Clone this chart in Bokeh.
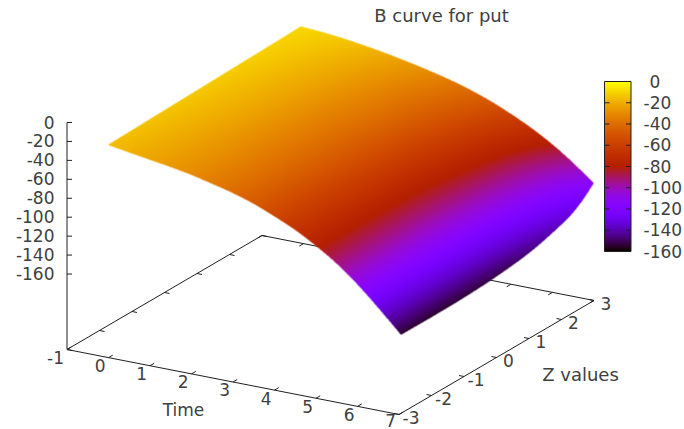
import math
import numpy as np
from bokeh.plotting import figure
from bokeh.embed import file_html
from bokeh.models import LinearColorMapper
from bokeh.resources import INLINE
from bokeh.core.properties import value

TITLE = "B curve for put"
XLABEL = "Time"
YLABEL = "Z values"

time_values = [0, 0.5, 1, 1.5, 2, 2.5, 3, 3.5, 4, 4.5, 5, 5.5, 6, 6.5, 7.05]
z_values = [-3, -2, -1, 0, 1, 2, 2.5, 2.92]
# B(time, z), one list per z value
b_zm3 = [-15, -18.6, -22, -25.4, -29.4, -34.5, -40, -47, -56, -66, -78.5, -93, -110.6, -131, -154.8]
b_zm2 = [-14, -17.6, -21, -25, -29, -34, -39.5, -47, -56, -66, -78.5, -93, -110.5, -131, -155]
b_zm1 = [-13, -16.6, -20, -24, -28.5, -33.5, -39, -46, -55, -65.5, -78, -92.5, -110, -130, -154.4]
b_z0 = [-12, -15.6, -19, -23, -27.5, -32.5, -38, -45, -53.5, -64, -76.5, -91, -108, -128, -152]
b_z1 = [-11, -14.4, -18, -21.5, -26, -31, -36, -42.5, -51, -61, -73, -87, -104, -124, -147]
b_z2 = [-10, -12.8, -16, -19.5, -23.6, -28.2, -33.4, -39.2, -46.2, -55.2, -66.8, -80.5, -96.5, -115, -136.5]
b_z25 = [-9.5, -11.6, -14.4, -17.8, -21.6, -26, -30.8, -36.2, -42.8, -51, -61.5, -74, -89, -107, -127]
b_z3 = [-9, -10.5, -12.8, -15.8, -19.4, -23.6, -28.2, -33.5, -39.8, -47.5, -56.8, -67.5, -80, -95, -113.7]
b_grid = [b_zm3, b_zm2, b_zm1, b_z0, b_z1, b_z2, b_z25, b_z3]

time_ticks = [-1, 0, 1, 2, 3, 4, 5, 6, 7]
z_ticks = [-3, -2, -1, 0, 1, 2, 3]
b_ticks = [0, -20, -40, -60, -80, -100, -120, -140, -160]
B_FLOOR = -239.7
CB_LOW, CB_HIGH = -160, 0

TXT = "#404040"
FONT = value("DejaVu Sans")
FS = "17px"
W, H = 684, 429


def proj(t, z, b):
    a, c = t + 1, z + 3
    return 66.5 + 41.5 * a + 32.5 * c, 122 - 0.947 * b + 8.125 * a - 19 * c


def cb_y(b):
    return 81 + (-b) * 170 / 160


def rgb(b):
    g = np.clip((np.asarray(b, dtype=float) - CB_LOW) / (CB_HIGH - CB_LOW), 0, 1)
    return np.sqrt(g), g ** 3, np.maximum(0.0, np.sin(2 * np.pi * g))


def cr(p0, p1, p2, p3, u):
    return 0.5 * (2 * p1 + (p2 - p0) * u + (2 * p0 - 5 * p1 + 4 * p2 - p3) * u ** 2 + (3 * p1 - p0 - 3 * p2 + p3) * u ** 3)


def surface_image(ss=2):
    """Paint the grid (Catmull-Rom between its values) into an RGBA raster."""
    grid = np.array(b_grid, dtype=float)
    nz, nt = grid.shape
    buf = np.zeros((H * ss, W * ss, 4), dtype=float)
    u = (np.arange(220) + .5) / 220
    v = (np.arange(260) + .5) / 260
    for j in range(nz - 2, -1, -1):
        kj = [max(0, min(nz - 1, q)) for q in range(j - 1, j + 3)]
        zz = cr(z_values[kj[0]], z_values[kj[1]], z_values[kj[2]], z_values[kj[3]], v)
        for i in range(nt - 1):
            ki = [max(0, min(nt - 1, q)) for q in range(i - 1, i + 3)]
            rows = [cr(grid[k, ki[0]], grid[k, ki[1]], grid[k, ki[2]], grid[k, ki[3]], u) for k in kj]
            b = np.array([cr(rows[0], rows[1], rows[2], rows[3], vv) for vv in v])
            tt = cr(time_values[ki[0]], time_values[ki[1]], time_values[ki[2]], time_values[ki[3]], u)
            T, Z = np.meshgrid(tt, zz)
            X, Y = proj(T, Z, b)
            ix = np.clip((X * ss).astype(int), 0, W * ss - 1)
            iy = np.clip((Y * ss).astype(int), 0, H * ss - 1)
            rr, gg, bb = rgb(b)
            buf[iy, ix, 0] = rr
            buf[iy, ix, 1] = gg
            buf[iy, ix, 2] = bb
            buf[iy, ix, 3] = 1.0
    small = buf.reshape(H, ss, W, ss, 4)
    alpha = small[..., 3].mean(axis=(1, 3))
    col = (small[..., :3] * small[..., 3:4]).mean(axis=(1, 3)) / np.maximum(alpha, 1e-6)[..., None]
    out = np.zeros((H, W), dtype=np.uint32)
    view = out.view(np.uint8).reshape(H, W, 4)
    view[..., :3] = np.round(col * 255).astype(np.uint8)
    view[..., 3] = np.round(alpha * 255).astype(np.uint8)
    return out


p = figure(width=W, height=H, x_range=(0, W), y_range=(H, 0),
           toolbar_location=None, output_backend="svg", min_border=0,
           outline_line_color=None, background_fill_color="white",
           border_fill_color="white")
p.axis.visible = False
p.grid.visible = False


def seg(pairs, color_="#202020", width=1.0):
    p.segment([q[0] for q in pairs], [q[1] for q in pairs], [q[2] for q in pairs], [q[3] for q in pairs],
              line_color=color_, line_width=width)


# floor frame
t0, t1 = time_ticks[0], time_ticks[-1]
z0, z1 = z_ticks[0], z_ticks[-1]
corners = [(t0, z0), (t1, z0), (t1, z1), (t0, z1), (t0, z0)]
frame = []
for (ta, za), (tb, zb) in zip(corners[:-1], corners[1:]):
    frame.append(proj(ta, za, B_FLOOR) + proj(tb, zb, B_FLOOR))
ticks = []
for t in time_ticks:
    ticks.append(proj(t, z0, B_FLOOR) + proj(t, z0 + 0.13, B_FLOOR))
    ticks.append(proj(t, z1, B_FLOOR) + proj(t, z1 - 0.13, B_FLOOR))
for z in z_ticks:
    ticks.append(proj(t0, z, B_FLOOR) + proj(t0 + 0.12, z, B_FLOOR))
    ticks.append(proj(t1, z, B_FLOOR) + proj(t1 - 0.12, z, B_FLOOR))
seg(frame)
seg(ticks)

# vertical axis
xa, ya_floor = proj(t0, z0, B_FLOOR)
_, ya_top = proj(t0, z0, b_ticks[0])
seg([(xa, ya_top, xa, ya_floor)])
seg([(xa, proj(t0, z0, b)[1], xa + 5, proj(t0, z0, b)[1]) for b in b_ticks])

# surface
p.image_rgba(image=[surface_image()], x=0, y=0, dw=W, dh=H)

# colour box
BAR_L, BAR_R = 604, 630.5
r_, g_, b_ = rgb(np.linspace(CB_LOW, CB_HIGH, 256))
palette = ["#%02x%02x%02x" % (round(a * 255), round(b * 255), round(c * 255)) for a, b, c in zip(r_, g_, b_)]
mapper = LinearColorMapper(palette=palette, low=CB_LOW, high=CB_HIGH)
bar_levels = np.linspace(CB_HIGH, CB_LOW, 170).reshape(170, 1)
p.image(image=[bar_levels], x=BAR_L, y=cb_y(0), dw=BAR_R - BAR_L, dh=cb_y(-160) - cb_y(0), color_mapper=mapper)
seg([(BAR_L, cb_y(b), BAR_L + 5, cb_y(b)) for b in b_ticks[1:-1]] +
    [(BAR_R, cb_y(b), BAR_R - 5, cb_y(b)) for b in b_ticks[1:-1]], "#202020")
p.quad(left=BAR_L, right=BAR_R, top=cb_y(0), bottom=cb_y(-160), fill_color=None, line_color="#202020", line_width=1)


def text(x, y, s, align="center", fs=FS):
    p.text(x=x, y=y, text=s, text_font=FONT, text_font_size=fs, text_color=TXT,
           text_align=align, text_baseline="middle")


# labels
text([proj(t0, z0, b)[0] - 12.5 for b in b_ticks], [proj(t0, z0, b)[1] - 0.5 for b in b_ticks],
     [str(b) for b in b_ticks], "right")
text([proj(t, z0, B_FLOOR)[0] - 3 for t in time_ticks], [min(proj(t, z0, B_FLOOR)[1] + 8, 419.5) for t in time_ticks],
     [str(t) for t in time_ticks], "right")
text([proj(t1, z, B_FLOOR)[0] + 12 for z in z_ticks], [proj(t1, z, B_FLOOR)[1] + 3 for z in z_ticks],
     [str(z) for z in z_ticks])
text([649 if b == 0 else 643 for b in b_ticks], [cb_y(b) - 0.5 for b in b_ticks], [str(b) for b in b_ticks], "left")
text([441], [15], [TITLE], fs="18px")
text([183], [409], [XLABEL])
text([580], [374], [YLABEL], fs="18px")

open("out.html", "w").write(file_html(p, INLINE))
